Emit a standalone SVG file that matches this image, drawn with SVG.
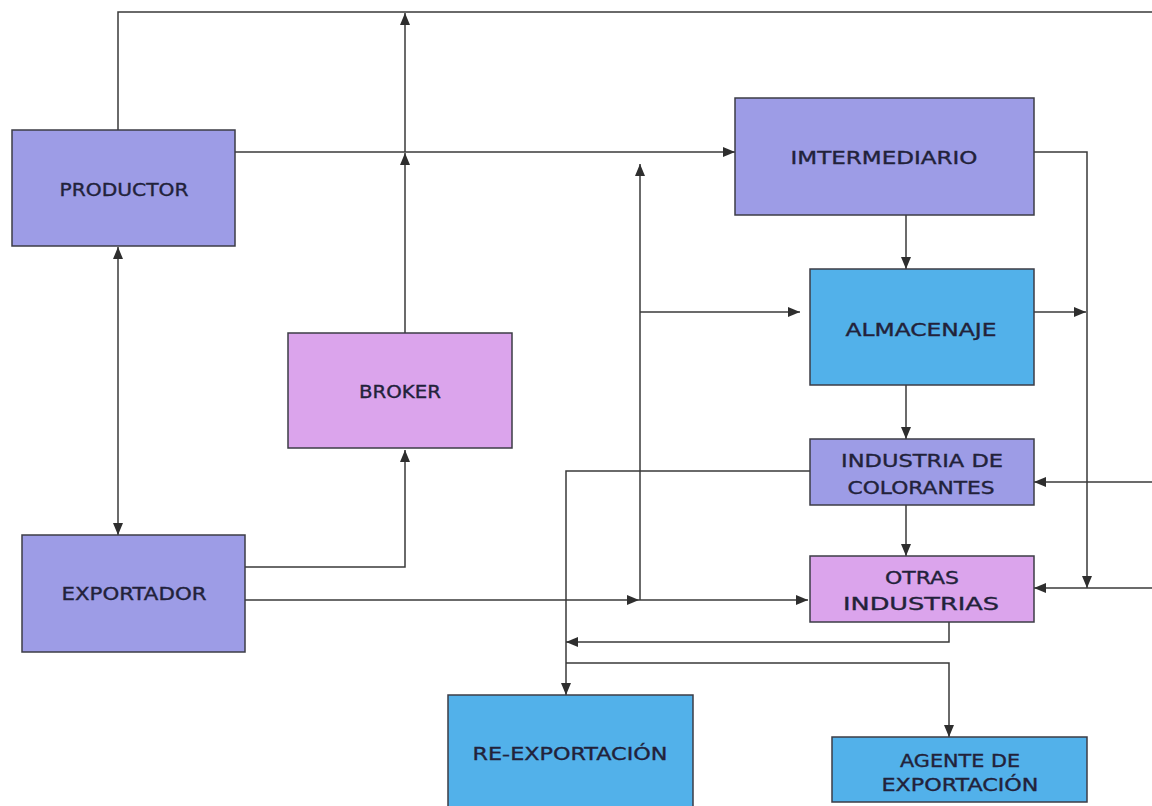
<svg xmlns="http://www.w3.org/2000/svg" width="1152" height="806" viewBox="0 0 1152 806">
<style>
.box{stroke:#3c3c46;stroke-width:1.5}
.p{fill:#9d9ce6}
.k{fill:#dba4ec}
.b{fill:#52b1ea}
.t{font-family:"DejaVu Sans",sans-serif;font-size:17px;fill:#22223a;stroke:#22223a;stroke-width:0.35;text-anchor:middle}
.c{fill:none;stroke:#3a3a3a;stroke-width:1.5}
</style>
<defs>
<marker id="ah" viewBox="0 0 12 10" refX="12" refY="5" markerWidth="12" markerHeight="10" markerUnits="userSpaceOnUse" orient="auto-start-reverse">
<path d="M0,0 L12,5 L0,10 z" fill="#2e2e2e"/>
</marker>
</defs>
<rect width="1152" height="806" fill="#ffffff"/>
<g id="connectors">
<path class="c" d="M118,130 V12 H1152"/>
<path class="c" d="M405,333 V153" marker-end="url(#ah)"/>
<path class="c" d="M405,152 V13" marker-end="url(#ah)"/>
<path class="c" d="M235,152 H735" marker-end="url(#ah)"/>
<path class="c" d="M640,600 V164" marker-end="url(#ah)"/>
<path class="c" d="M640,312 H800" marker-end="url(#ah)"/>
<path class="c" d="M245,600 H639" marker-end="url(#ah)"/>
<path class="c" d="M639,600 H808" marker-end="url(#ah)"/>
<path class="c" d="M245,567 H405 V450" marker-end="url(#ah)"/>
<path class="c" d="M1034,152 H1087 V588" marker-end="url(#ah)"/>
<path class="c" d="M906,215 V269" marker-end="url(#ah)"/>
<path class="c" d="M1034,312 H1086" marker-end="url(#ah)"/>
<path class="c" d="M906,385 V439" marker-end="url(#ah)"/>
<path class="c" d="M1152,482 H1034" marker-end="url(#ah)"/>
<path class="c" d="M906,505 V556" marker-end="url(#ah)"/>
<path class="c" d="M1152,588 H1034" marker-end="url(#ah)"/>
<path class="c" d="M810,471 H566 V695" marker-end="url(#ah)"/>
<path class="c" d="M949,622 V642 H566" marker-end="url(#ah)"/>
<path class="c" d="M566,663 H949 V737" marker-end="url(#ah)"/>
<path class="c" d="M118,247 V535" marker-start="url(#ah)" marker-end="url(#ah)"/>
</g>
<g id="productor">
<rect class="box p" x="12" y="130" width="223" height="116"/>
<text class="t" x="124" y="196" textLength="129" lengthAdjust="spacingAndGlyphs">PRODUCTOR</text>
</g>
<g id="intermediario">
<rect class="box p" x="735" y="98" width="299" height="117"/>
<text class="t" x="884" y="164" textLength="187" lengthAdjust="spacingAndGlyphs">IMTERMEDIARIO</text>
</g>
<g id="almacenaje">
<rect class="box b" x="810" y="269" width="224" height="116"/>
<text class="t" x="921" y="336" textLength="151" lengthAdjust="spacingAndGlyphs">ALMACENAJE</text>
</g>
<g id="broker">
<rect class="box k" x="288" y="333" width="224" height="115"/>
<text class="t" x="400" y="398" textLength="82" lengthAdjust="spacingAndGlyphs">BROKER</text>
</g>
<g id="industria">
<rect class="box p" x="810" y="439" width="224" height="66"/>
<text class="t" x="922" y="467" textLength="162" lengthAdjust="spacingAndGlyphs">INDUSTRIA DE</text>
<text class="t" x="921" y="494" textLength="147" lengthAdjust="spacingAndGlyphs">COLORANTES</text>
</g>
<g id="otras">
<rect class="box k" x="810" y="556" width="224" height="66"/>
<text class="t" x="922" y="584" textLength="74" lengthAdjust="spacingAndGlyphs">OTRAS</text>
<text class="t" x="921" y="610" textLength="156" lengthAdjust="spacingAndGlyphs">INDUSTRIAS</text>
</g>
<g id="exportador">
<rect class="box p" x="22" y="535" width="223" height="117"/>
<text class="t" x="134" y="600" textLength="145" lengthAdjust="spacingAndGlyphs">EXPORTADOR</text>
</g>
<g id="reexportacion">
<rect class="box b" x="448" y="695" width="245" height="120"/>
<text class="t" x="570" y="760" textLength="195" lengthAdjust="spacingAndGlyphs">RE-EXPORTACIÓN</text>
</g>
<g id="agente">
<rect class="box b" x="832" y="737" width="255" height="65"/>
<text class="t" x="960" y="767" textLength="120" lengthAdjust="spacingAndGlyphs">AGENTE DE</text>
<text class="t" x="960" y="791" textLength="157" lengthAdjust="spacingAndGlyphs">EXPORTACIÓN</text>
</g>
</svg>
